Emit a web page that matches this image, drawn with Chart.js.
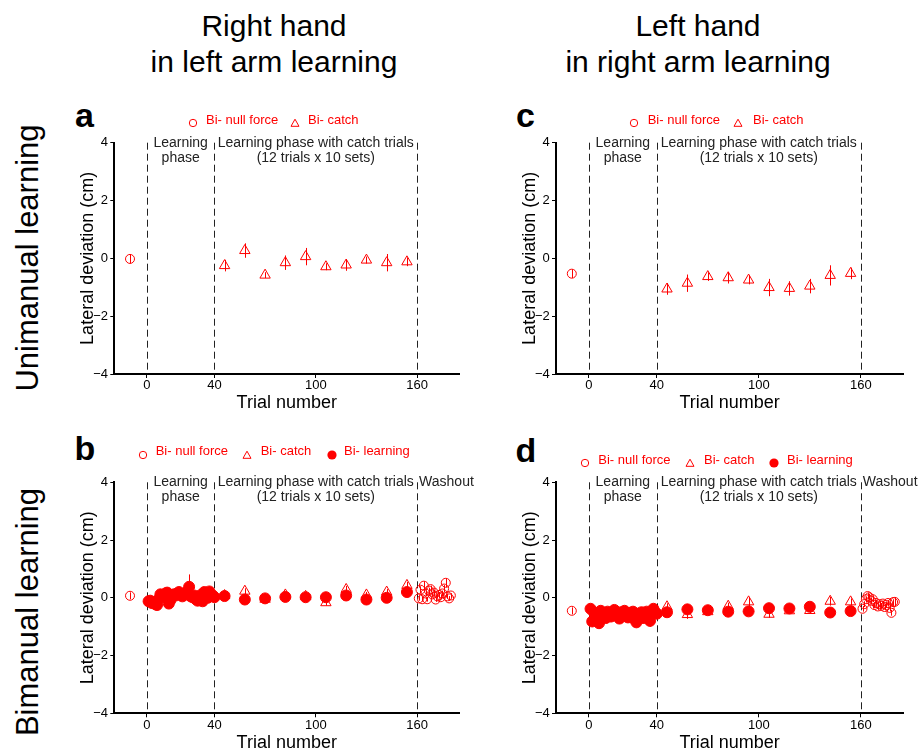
<!DOCTYPE html>
<html>
<head>
<meta charset="utf-8">
<script src="https://cdn.jsdelivr.net/npm/chart.js@4.4.0/dist/chart.umd.min.js"></script>
<style>
html,body{margin:0;padding:0;background:#fff;width:919px;height:756px;overflow:hidden;font-family:"Liberation Sans",Arial,Helvetica,sans-serif;}
canvas{position:absolute;}
.title{position:absolute;font-size:30px;line-height:36px;text-align:center;width:400px;color:#000;white-space:nowrap;}
.row{position:absolute;font-size:31px;white-space:nowrap;color:#000;transform:translate(-50%,-50%) rotate(-90deg);}
.letter{position:absolute;font-weight:bold;font-size:34px;line-height:34px;color:#000;}
.lgtext{position:absolute;font-size:13px;line-height:15px;color:#ff0000;white-space:nowrap;}
.lgmark{position:absolute;width:10px;height:10px;}
</style>
</head>
<body>
<div class="title" style="left:74px;top:7.6px;">Right hand<br>in left arm learning</div>
<div class="title" style="left:498px;top:7.6px;">Left hand<br>in right arm learning</div>
<div class="row" style="left:28px;top:258px;">Unimanual learning</div>
<div class="row" style="left:28px;top:612px;">Bimanual learning</div>
<div class="letter" style="left:75px;top:98px;">a</div>
<div class="letter" style="left:74.5px;top:431px;">b</div>
<div class="letter" style="left:516px;top:98px;">c</div>
<div class="letter" style="left:515.5px;top:433px;">d</div>
<canvas id="ca" width="420" height="322" style="left:50px;top:100px;"></canvas>
<canvas id="cb" width="430" height="326" style="left:50px;top:430px;"></canvas>
<canvas id="cc" width="424" height="322" style="left:492px;top:100px;"></canvas>
<canvas id="cd" width="426" height="326" style="left:492px;top:430px;"></canvas>
<script>
// ---------- data ----------
const SERIES_LABELS = ['Bi- null force', 'Bi- catch', 'Bi- learning'];
const X_TICKS = [0, 40, 100, 160];
const Y_TICKS = [-4, -2, 0, 2, 4];
const PHASE_BOUNDS = [0, 40, 160];

const NULL_X = [-10];
const CATCH_X = [46, 58, 70, 82, 94, 106, 118, 130, 142, 154];
const LEARN_X = [1,2,3,4,5,6,7,8,9,10,11,12,13,14,15,16,17,18,19,20,21,22,23,24,25,26,27,28,29,30,31,32,33,34,35,36,37,38,39,40];
const WASH_X = [161,162,163,164,165,166,167,168,169,170,171,172,173,174,175,176,177,178,179,180];

// panel a: right hand, unimanual
const aNull = [-0.02];
const aNullErr = [0.15];
const aCatch = [-0.25, 0.27, -0.58, -0.15, 0.06, -0.29, -0.23, -0.06, -0.15, -0.12];
const aCatchErr = [0.2, 0.25, 0.1, 0.25, 0.3, 0.12, 0.2, 0.12, 0.3, 0.15];

// panel c: left hand, unimanual
const cNull = [-0.53];
const cNullErr = [0.15];
const cCatch = [-1.06, -0.86, -0.63, -0.67, -0.75, -1.01, -1.04, -0.96, -0.59, -0.52];
const cCatchErr = [0.2, 0.3, 0.15, 0.2, 0.15, 0.3, 0.25, 0.25, 0.35, 0.2];

// panel b: right hand, bimanual
const bNull = [0.07];
const bNullErr = [0.12];
const bCatch = [0.08, 0.23, -0.05, 0.10, 0.05, -0.17, 0.29, 0.10, 0.20, 0.43];
const bCatchErr = [0.1, 0.1, 0.1, 0.12, 0.1, 0.1, 0.12, 0.1, 0.1, 0.12];
const bLearn = [-0.12,-0.10,-0.18,-0.15,-0.22,-0.25,-0.05,0.12,0.08,0.05,0.15,0.18,-0.20,-0.08,0.10,0.12,0.08,0.15,0.20,0.12,0.05,0.10,0.18,0.15,0.38,0.05,0.02,0.08,-0.05,-0.10,0.02,0.10,-0.12,0.20,0.15,0.00,0.22,0.12,0.08,0.02];
const bLearnErr = [0.1,0.1,0.1,0.1,0.12,0.1,0.1,0.1,0.1,0.1,0.1,0.12,0.1,0.1,0.1,0.1,0.1,0.1,0.12,0.1,0.1,0.1,0.1,0.12,0.43,0.1,0.1,0.1,0.1,0.1,0.1,0.1,0.1,0.12,0.1,0.1,0.1,0.1,0.1,0.1];
const bSet = [0.06, -0.06, -0.02, 0.03, 0.02, 0.02, 0.08, -0.06, 0.00, 0.20];
const bSetErr = [0.08, 0.08, 0.08, 0.08, 0.08, 0.08, 0.08, 0.08, 0.08, 0.08];
const bWash = [-0.02,0.28,-0.05,0.42,0.15,-0.05,0.25,0.30,0.12,0.18,-0.06,0.05,0.10,0.02,0.15,0.32,0.52,0.05,-0.02,0.08];
const bWashErr = [0.08,0.12,0.08,0.15,0.1,0.08,0.1,0.12,0.08,0.1,0.08,0.08,0.1,0.08,0.1,0.12,0.15,0.08,0.08,0.08];

// panel d: left hand, bimanual
const dNull = [-0.45];
const dNullErr = [0.12];
const dCatch = [-0.31, -0.58, -0.48, -0.29, -0.14, -0.57, -0.45, -0.44, -0.12, -0.14];
const dCatchErr = [0.12, 0.15, 0.1, 0.12, 0.15, 0.12, 0.1, 0.1, 0.15, 0.12];
const dLearn = [-0.38,-0.82,-0.50,-0.55,-0.62,-0.88,-0.45,-0.60,-0.52,-0.70,-0.48,-0.58,-0.65,-0.50,-0.42,-0.60,-0.55,-0.72,-0.50,-0.62,-0.45,-0.58,-0.68,-0.52,-0.60,-0.48,-0.75,-0.85,-0.55,-0.62,-0.50,-0.70,-0.58,-0.48,-0.65,-0.80,-0.55,-0.38,-0.50,-0.55];
const dLearnErr = [0.15,0.18,0.15,0.18,0.15,0.2,0.15,0.18,0.15,0.18,0.15,0.15,0.18,0.15,0.15,0.18,0.15,0.18,0.15,0.15,0.18,0.15,0.18,0.15,0.15,0.18,0.2,0.18,0.15,0.18,0.15,0.18,0.15,0.15,0.18,0.2,0.15,0.15,0.15,0.15];
const dSet = [-0.50, -0.40, -0.43, -0.48, -0.47, -0.36, -0.37, -0.31, -0.51, -0.46];
const dSetErr = [0.08, 0.08, 0.08, 0.08, 0.08, 0.08, 0.08, 0.08, 0.08, 0.08];
const dWash = [-0.38,-0.22,-0.05,0.06,0.02,-0.10,-0.05,-0.25,-0.18,-0.30,-0.22,-0.28,-0.20,-0.32,-0.25,-0.18,-0.35,-0.52,-0.15,-0.14];
const dWashErr = [0.1,0.1,0.1,0.1,0.12,0.1,0.1,0.1,0.1,0.1,0.1,0.1,0.1,0.1,0.1,0.1,0.12,0.1,0.1,0.15];

// ---------- drawing ----------
const RED = '#ff0000';
const FAMILY = '"Liberation Sans", Arial, Helvetica, sans-serif';
const X_MIN = -19.3, X_MAX = 185;

function pts(xs, ys){ return xs.map((x, i) => ({x: x, y: ys[i]})); }
function fmt(v){ return v < 0 ? '\u2212' + Math.abs(v) : String(v); }

const errorBars = {
  id: 'errorBars',
  beforeDatasetsDraw(chart){
    const {ctx, scales: {x, y}} = chart;
    ctx.save();
    ctx.strokeStyle = RED; ctx.lineWidth = 1;
    chart.data.datasets.forEach(ds => {
      if (!ds.errs) return;
      ds.data.forEach((p, i) => {
        const e = ds.errs[i];
        if (!e) return;
        const px = Math.round(x.getPixelForValue(p.x)) + 0.5;
        ctx.beginPath();
        ctx.moveTo(px, y.getPixelForValue(p.y - e));
        ctx.lineTo(px, y.getPixelForValue(p.y + e));
        ctx.stroke();
      });
    });
    ctx.restore();
  }
};

const phases = {
  id: 'phases',
  beforeDatasetsDraw(chart){
    const {ctx, chartArea, scales: {x}} = chart;
    ctx.save();
    ctx.strokeStyle = '#222'; ctx.lineWidth = 1; ctx.setLineDash([7, 4]);
    PHASE_BOUNDS.forEach(v => {
      const px = Math.round(x.getPixelForValue(v)) + 0.5;
      ctx.beginPath(); ctx.moveTo(px, chartArea.top); ctx.lineTo(px, chartArea.bottom); ctx.stroke();
    });
    ctx.restore();
  },
  afterDraw(chart, args, opts){
    const {ctx, chartArea, scales: {x}} = chart;
    ctx.save();
    ctx.fillStyle = '#222';
    ctx.font = '14px ' + FAMILY;
    ctx.textBaseline = 'middle';
    (opts.labels || []).forEach(l => {
      ctx.textAlign = l.align;
      l.lines.forEach((t, k) => ctx.fillText(t, x.getPixelForValue(l.x) + (l.dx || 0), chartArea.top + k * 15));
    });
    ctx.restore();
  }
};

const PHASE_LABELS = [
  {x: 20, align: 'center', lines: ['Learning', 'phase']},
  {x: 100, align: 'center', lines: ['Learning phase with catch trials', '(12 trials x 10 sets)']}
];
const WASH_LABEL = {x: 160, dx: 2, align: 'left', lines: ['Washout']};

function hollow(style, r){
  return {pointStyle: style, pointRadius: r, pointHoverRadius: r, pointBackgroundColor: 'rgba(0,0,0,0)', pointBorderColor: RED, pointBorderWidth: 1};
}
function filled(r){
  return {pointStyle: 'circle', pointRadius: r, pointHoverRadius: r, pointBackgroundColor: RED, pointBorderColor: RED, pointBorderWidth: 1};
}

function makeChart(id, geo, datasets, labels){
  const tickFont = {size: 13, family: FAMILY};
  new Chart(document.getElementById(id), {
    type: 'scatter',
    data: {datasets: datasets},
    options: {
      responsive: false, animation: false, events: [],
      layout: {padding: {top: geo.padTop, right: geo.padRight, left: 0, bottom: 0}},
      plugins: {legend: {display: false}, tooltip: {enabled: false}, phases: {labels: labels}},
      scales: {
        x: {
          type: 'linear', position: 'bottom', min: X_MIN, max: X_MAX,
          afterBuildTicks: s => { s.ticks = X_TICKS.map(v => ({value: v})); },
          afterFit: s => { s.height = geo.xH; },
          grid: {display: true, drawOnChartArea: false, drawTicks: true, tickLength: 4, tickColor: '#000', color: '#000', tickWidth: 1},
          border: {display: true, color: '#000', width: 2},
          ticks: {padding: 0, color: '#000', font: tickFont, maxRotation: 0, autoSkip: false, callback: v => fmt(v)},
          title: {display: true, text: 'Trial number', color: '#000', font: {size: 18, family: FAMILY}, padding: {top: 0, bottom: geo.xTitlePad}}
        },
        y: {
          type: 'linear', position: 'left', min: -4, max: 4,
          afterBuildTicks: s => { s.ticks = Y_TICKS.map(v => ({value: v})); },
          afterFit: s => { s.width = geo.yW; },
          grid: {display: true, drawOnChartArea: false, drawTicks: true, tickLength: 4, tickColor: '#000', color: '#000', tickWidth: 1},
          border: {display: true, color: '#000', width: 2},
          ticks: {padding: 2.3, color: '#000', font: tickFont, callback: v => fmt(v)},
          title: {display: true, text: 'Lateral deviation (cm)', color: '#000', font: {size: 18, family: FAMILY}, padding: {top: 27.2, bottom: 0}}
        }
      }
    },
    plugins: [phases, errorBars]
  });
}

// panel a
makeChart('ca', {yW: 64.3, padTop: 42.7, padRight: 10.7, xH: 48, xTitlePad: 7.7}, [
  Object.assign({label: SERIES_LABELS[0], data: pts(NULL_X, aNull), errs: aNullErr}, hollow('circle', 4.5)),
  Object.assign({label: SERIES_LABELS[1], data: pts(CATCH_X, aCatch), errs: aCatchErr}, hollow('triangle', 6))
], PHASE_LABELS);

// panel c
makeChart('cc', {yW: 64, padTop: 42.7, padRight: 12.7, xH: 48, xTitlePad: 7.7}, [
  Object.assign({label: SERIES_LABELS[0], data: pts(NULL_X, cNull), errs: cNullErr}, hollow('circle', 4.5)),
  Object.assign({label: SERIES_LABELS[1], data: pts(CATCH_X, cCatch), errs: cCatchErr}, hollow('triangle', 6))
], PHASE_LABELS);

// panel b
makeChart('cb', {yW: 64.3, padTop: 52.3, padRight: 20.7, xH: 42.7, xTitlePad: 2.4}, [
  Object.assign({label: SERIES_LABELS[1], data: pts(CATCH_X, bCatch), errs: bCatchErr}, hollow('triangle', 6)),
  Object.assign({label: SERIES_LABELS[0], data: pts(NULL_X.concat(WASH_X), bNull.concat(bWash)), errs: bNullErr.concat(bWashErr)}, hollow('circle', 4.5)),
  Object.assign({label: SERIES_LABELS[2], data: pts(LEARN_X.concat(CATCH_X), bLearn.concat(bSet)), errs: bLearnErr.concat(bSetErr)}, filled(5.5))
], PHASE_LABELS.concat([WASH_LABEL]));

// panel d
makeChart('cd', {yW: 64, padTop: 52.3, padRight: 14.7, xH: 42.7, xTitlePad: 2.4}, [
  Object.assign({label: SERIES_LABELS[1], data: pts(CATCH_X, dCatch), errs: dCatchErr}, hollow('triangle', 6)),
  Object.assign({label: SERIES_LABELS[0], data: pts(NULL_X.concat(WASH_X), dNull.concat(dWash)), errs: dNullErr.concat(dWashErr)}, hollow('circle', 4.5)),
  Object.assign({label: SERIES_LABELS[2], data: pts(LEARN_X.concat(CATCH_X), dLearn.concat(dSet)), errs: dLearnErr.concat(dSetErr)}, filled(5.5))
], PHASE_LABELS.concat([WASH_LABEL]));

// ---------- legends ----------
const MARKERS = [
  '<svg width="10" height="10"><circle cx="5" cy="5" r="3.7" fill="none" stroke="#ff0000" stroke-width="1"/></svg>',
  '<svg width="10" height="10"><polygon points="5,1.2 9,8.3 1,8.3" fill="none" stroke="#ff0000" stroke-width="1"/></svg>',
  '<svg width="10" height="10"><circle cx="5" cy="5" r="4.6" fill="#ff0000"/></svg>'
];
function legend(y, items){
  items.forEach(it => {
    const m = document.createElement('div');
    m.className = 'lgmark';
    m.style.left = (it.mx - 5) + 'px'; m.style.top = (y - 5) + 'px';
    m.innerHTML = MARKERS[it.k];
    document.body.appendChild(m);
    const t = document.createElement('div');
    t.className = 'lgtext';
    t.style.left = it.tx + 'px'; t.style.top = (y - 7.5) + 'px';
    t.textContent = SERIES_LABELS[it.k];
    document.body.appendChild(t);
  });
}
legend(119, [{k: 0, mx: 193, tx: 206}, {k: 1, mx: 295, tx: 308}]);
legend(119.3, [{k: 0, mx: 634, tx: 647.7}, {k: 1, mx: 737.7, tx: 753}]);
legend(450.7, [{k: 0, mx: 142.7, tx: 155.7}, {k: 1, mx: 247.3, tx: 260.7}, {k: 2, mx: 331.7, tx: 344}]);
legend(459, [{k: 0, mx: 585, tx: 598.3}, {k: 1, mx: 690, tx: 704}, {k: 2, mx: 774, tx: 787}]);
</script>
</body>
</html>
